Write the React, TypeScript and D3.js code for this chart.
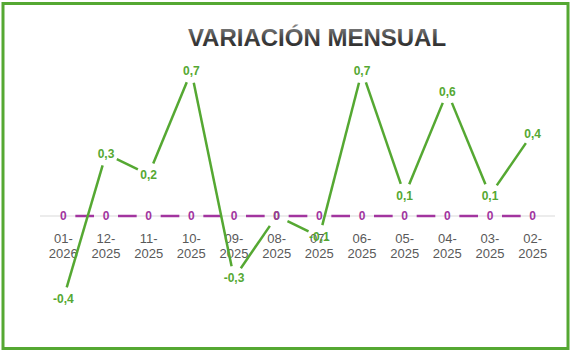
import React, { useEffect, useRef } from "react";
import * as d3 from "d3";

const categories = [
  "01-2026", "12-2025", "11-2025", "10-2025", "09-2025", "08-2025",
  "07-2025", "06-2025", "05-2025", "04-2025", "03-2025", "02-2025",
];
const variacion = [-0.4, 0.3, 0.2, 0.7, -0.3, 0, -0.1, 0.7, 0.1, 0.6, 0.1, 0.4];
const referencia = [0, 0, 0, 0, 0, 0, 0, 0, 0, 0, 0, 0];

const GREEN = "#55a832";
const PURPLE = "#a2359f";
const GAP = 12;

const fmt = (v: number) => (v === 0 ? "0" : d3.format(".1f")(v).replace(".", ",").replace("−", "-"));

const App = () => {
  const svgRef = useRef<SVGSVGElement | null>(null);

  useEffect(() => {
    const svg = d3.select(svgRef.current);
    svg.selectAll("*").remove();

    const x = d3.scaleBand().domain(categories).range([42, 554]);
    const y = d3.scaleLinear().domain([-0.5, 0.8]).range([319.5, 50.4]);
    const cx = (c: string) => (x(c) as number) + x.bandwidth() / 2;

    const defs = svg.append("defs");
    const grad = defs
      .append("linearGradient")
      .attr("id", "titleGrad")
      .attr("x1", 0).attr("y1", 0).attr("x2", 0).attr("y2", 1);
    grad.append("stop").attr("offset", "0%").attr("stop-color", "#8a8a8a");
    grad.append("stop").attr("offset", "55%").attr("stop-color", "#404040");
    grad.append("stop").attr("offset", "100%").attr("stop-color", "#262626");

    // frame
    svg
      .append("rect")
      .attr("x", 3)
      .attr("y", 3.5)
      .attr("width", 565)
      .attr("height", 345)
      .attr("fill", "white")
      .attr("stroke", GREEN)
      .attr("stroke-width", 3);

    svg
      .append("text")
      .attr("x", 317)
      .attr("y", 46)
      .attr("text-anchor", "middle")
      .style("font-family", "Liberation Sans, Arial, sans-serif")
      .style("font-weight", "bold")
      .style("font-size", "24px")
      .attr("fill", "url(#titleGrad)")
      .style("paint-order", "stroke")
      .text("VARIACIÓN MENSUAL");

    // horizontal axis line
    svg
      .append("line")
      .attr("x1", 40)
      .attr("x2", 555)
      .attr("y1", y(0))
      .attr("y2", y(0))
      .attr("stroke", "#d9d9d9")
      .attr("stroke-width", 1);

    // category labels
    const ticks = svg
      .append("g")
      .selectAll("text")
      .data(categories)
      .enter()
      .append("text")
      .attr("x", (d) => cx(d))
      .attr("y", 243)
      .attr("text-anchor", "middle")
      .attr("fill", "#595959")
      .style("font-family", "Liberation Sans, Arial, sans-serif")
      .style("font-size", "13px");
    ticks.append("tspan").attr("x", (d) => cx(d)).text((d) => d.split("-")[0] + "-");
    ticks.append("tspan").attr("x", (d) => cx(d)).attr("dy", 15).text((d) => d.split("-")[1]);

    const drawSeries = (values: number[], color: string) => {
      const pts = values.map((v, i) => [cx(categories[i]), y(v)] as [number, number]);
      const segs = d3.pairs(pts).map(([a, b]) => {
        const dx = b[0] - a[0];
        const dy = b[1] - a[1];
        const len = Math.hypot(dx, dy);
        const ux = dx / len;
        const uy = dy / len;
        return [
          [a[0] + ux * GAP, a[1] + uy * GAP],
          [b[0] - ux * GAP, b[1] - uy * GAP],
        ];
      });
      svg
        .append("g")
        .selectAll("line")
        .data(segs)
        .enter()
        .append("line")
        .attr("x1", (d) => d[0][0])
        .attr("y1", (d) => d[0][1])
        .attr("x2", (d) => d[1][0])
        .attr("y2", (d) => d[1][1])
        .attr("stroke", color)
        .attr("stroke-width", 2.5);
    };

    const drawLabels = (values: number[], color: string) => {
      svg
        .append("g")
        .selectAll("text")
        .data(values)
        .enter()
        .append("text")
        .attr("x", (d, i) => cx(categories[i]))
        .attr("y", (d) => y(d) + 4.3)
        .attr("text-anchor", "middle")
        .attr("fill", color)
        .style("font-family", "Liberation Sans, Arial, sans-serif")
        .style("font-weight", "bold")
        .style("font-size", "12px")
        .text((d) => fmt(d));
    };

    drawSeries(referencia, PURPLE);
    drawSeries(variacion, GREEN);
    drawLabels(variacion, GREEN);
    drawLabels(referencia, PURPLE);
  }, []);

  return (
    <svg
      ref={svgRef}
      width={570}
      height={351}
      style={{ position: "absolute", left: 0, top: 0 }}
    />
  );
};

export default App;
